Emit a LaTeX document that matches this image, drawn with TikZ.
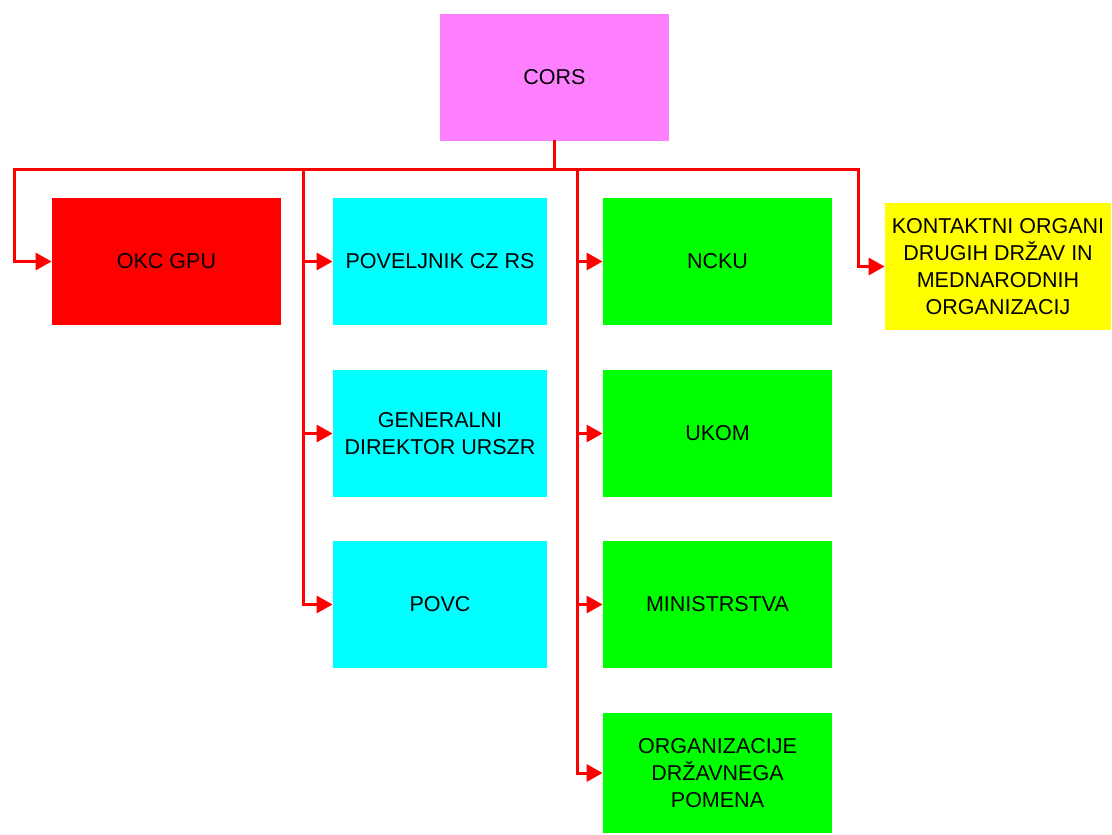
\documentclass[tikz,border=0pt]{standalone}
\usepackage{fontspec}
\setmainfont{Liberation Sans}
\usetikzlibrary{positioning, arrows.meta}

\definecolor{corspink}{HTML}{FF80FF}
\definecolor{okcred}{HTML}{FF0000}
\definecolor{czcyan}{HTML}{00FFFF}
\definecolor{ncgreen}{HTML}{00FF00}
\definecolor{kontyellow}{HTML}{FFFF00}

\tikzset{
  box/.style={minimum width=114.5pt, minimum height=63.5pt, inner sep=0pt,
    align=center, font=\fontsize{10.75}{13.5}\selectfont},
  wire/.style={draw=red, line width=1.5pt, line cap=rect},
  arr/.style={draw=red, line width=1.5pt, -{Triangle[length=8pt,width=8.5pt]}}
}

\begin{document}
\begin{tikzpicture}[x=0.5pt, y=-0.5pt]
            \useasboundingbox (0,0) rectangle (1112,834);

            %boxes
            \node[box, fill=corspink] (cors) at (554.5,77.5) {CORS};
            \node[box, fill=okcred] (okc) at (166.5,261.5) {OKC GPU};

            \node[box, fill=czcyan, minimum width=107pt] (pov) at (440,261.5) {POVELJNIK CZ RS};
            \node[box, fill=czcyan, minimum width=107pt] (gen) at (440,433.5) {GENERALNI\\DIREKTOR URSZR};
            \node[box, fill=czcyan, minimum width=107pt] (povc) at (440,604.5) {POVC};

            \node[box, fill=ncgreen] (ncku) at (717.5,261.5) {NCKU};
            \node[box, fill=ncgreen] (ukom) at (717.5,433.5) {UKOM};
            \node[box, fill=ncgreen] (min) at (717.5,604.5) {MINISTRSTVA};
            \node[box, fill=ncgreen, minimum height=60pt] (org) at (717.5,773) {ORGANIZACIJE\\DRŽAVNEGA\\POMENA};

            \node[box, fill=kontyellow, minimum width=113pt] (kont) at (998,266.5) {KONTAKTNI ORGANI\\DRUGIH DRŽAV IN\\MEDNARODNIH\\ORGANIZACIJ};

            %bus
            \coordinate (jl) at (14,170);
            \coordinate (jc) at (303,170);
            \coordinate (jg) at (577,170);
            \coordinate (jr) at (858,170);

            \draw[wire] (cors.south) -- (cors.south |- jl);
            \draw[wire] (jl) -- (jr);

            %arrows
            \draw[arr] (jl) |- (okc.west);
            \draw[arr] (jc) |- (pov.west);
            \draw[arr] (jc) |- (gen.west);
            \draw[arr] (jc) |- (povc.west);
            \draw[arr] (jg) |- (ncku.west);
            \draw[arr] (jg) |- (ukom.west);
            \draw[arr] (jg) |- (min.west);
            \draw[arr] (jg) |- (org.west);
            \draw[arr] (jr) |- (kont.west);
        \end{tikzpicture}
\end{document}
